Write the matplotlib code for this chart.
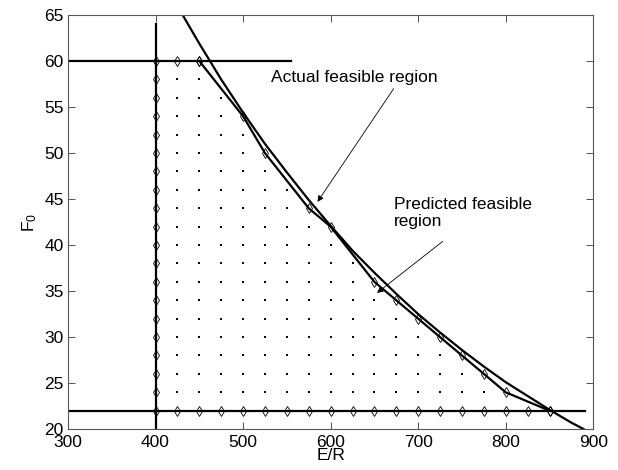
import matplotlib
matplotlib.use("Agg")
import matplotlib.pyplot as plt

plt.rcParams['font.family'] = ['Liberation Sans', 'DejaVu Sans']

# constraint lines
f0_max_line_er = [300, 555]
f0_max_line_f0 = [60, 60]
f0_min_line_er = [300, 890]
f0_min_line_f0 = [22, 22]
er_min_line_er = [400, 400]
er_min_line_f0 = [20, 64]

# actual boundary (smooth curve)
actual_er = [431, 450, 475, 500, 525, 550, 575, 600, 625, 650, 675, 700,
             725, 750, 775, 800, 825, 850, 875, 889]
actual_f0 = [65, 61.9, 58.0, 54.4, 51.0, 47.9, 44.9, 42.1, 39.4, 37.0, 34.7,
             32.5, 30.5, 28.6, 26.8, 25.1, 23.6, 22.1, 20.7, 20.0]

# predicted boundary through the sampled edge points
pred_er = [450, 500, 525, 575, 600, 650, 675, 700, 725, 750, 775, 800, 850]
pred_f0 = [60, 54, 50, 44, 42, 36, 34, 32, 30, 28, 26, 24, 22]

# sampled points: left column, top row, bottom row
left_f0 = [22, 24, 26, 28, 30, 32, 34, 36, 38, 40, 42, 44, 46, 48, 50, 52,
           54, 56, 58, 60]
top_er = [425, 450]
bottom_er = [425, 450, 475, 500, 525, 550, 575, 600, 625, 650, 675, 700,
             725, 750, 775, 800, 825, 850]

# interior sample columns and the highest interior value in each
dot_er = [425, 450, 475, 500, 525, 550, 575, 600, 625, 650, 675, 700, 725,
          750, 775]
dot_top = [58, 58, 56, 52, 48, 46, 42, 40, 38, 34, 32, 30, 28, 26, 24]
dot_bottom = 24

fig = plt.figure(figsize=(6.18, 4.70), dpi=100)
ax = fig.add_axes([0.110, 0.087, 0.850, 0.881])

lw = 1.6
ax.plot(f0_max_line_er, f0_max_line_f0, color='k', lw=lw)
ax.plot(f0_min_line_er, f0_min_line_f0, color='k', lw=lw)
ax.plot(er_min_line_er, er_min_line_f0, color='k', lw=lw)
ax.plot(actual_er, actual_f0, color='k', lw=lw)
ax.plot(pred_er, pred_f0, color='k', lw=lw)

# interior points
dx, dy = [], []
for e, top in zip(dot_er, dot_top):
    f = dot_bottom
    while f <= top:
        dx.append(e)
        dy.append(f)
        f += 2
ax.plot(dx, dy, linestyle='none', marker='s', ms=1.8, mew=0, color='k')

# boundary points
bx = [400] * len(left_f0) + top_er + bottom_er + pred_er
by = left_f0 + [60] * len(top_er) + [22] * len(bottom_er) + pred_f0
ax.plot(bx, by, linestyle='none', marker='d', ms=5.5, mfc='none',
        mec='k', mew=0.6)

arrow = dict(arrowstyle='-|>', color='k', lw=0.6, mutation_scale=9,
             shrinkA=0, shrinkB=0)

ax.text(532, 58.2, 'Actual feasible region', fontsize=12.5,
        va='center', ha='left')
ax.annotate('', xy=(585, 44.7), xytext=(672, 57.0), arrowprops=arrow)
ax.text(672, 43.5, 'Predicted feasible\nregion', fontsize=12.5,
        va='center', ha='left', linespacing=1.15)
ax.annotate('', xy=(653, 34.8), xytext=(728, 40.4), arrowprops=arrow)

ax.set_xlim(300, 900)
ax.set_ylim(20, 65)
ax.set_xticks([300, 400, 500, 600, 700, 800, 900])
ax.set_yticks([20, 25, 30, 35, 40, 45, 50, 55, 60, 65])
ax.tick_params(direction='in', top=True, right=True, length=5, width=0.6,
               labelsize=12.5, colors='#333333', labelcolor='k')
ax.tick_params(axis='x', pad=4)
ax.tick_params(axis='y', pad=3)
for s in ax.spines.values():
    s.set_linewidth(0.8)
    s.set_color('#555555')

ax.set_xlabel('E/R', fontsize=12.5, labelpad=-1)
ax.set_ylabel(r'F$\mathregular{_0}$', fontsize=12.5, labelpad=4)

fig.savefig('out.png', dpi=100)
